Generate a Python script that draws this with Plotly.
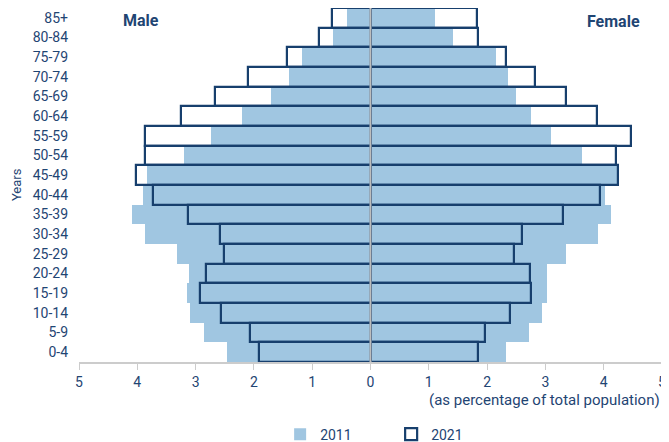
import plotly.graph_objects as go

ages = ["0-4", "5-9", "10-14", "15-19", "20-24", "25-29", "30-34", "35-39", "40-44",
        "45-49", "50-54", "55-59", "60-64", "65-69", "70-74", "75-79", "80-84", "85+"]

male_2011 = [2.47, 2.86, 3.09, 3.14, 3.12, 3.32, 3.86, 4.09, 3.91,
             3.83, 3.20, 2.73, 2.21, 1.70, 1.39, 1.17, 0.645, 0.405]
male_2021 = [1.91, 2.06, 2.56, 2.92, 2.83, 2.51, 2.59, 3.13, 3.73,
             4.03, 3.86, 3.87, 3.25, 2.67, 2.10, 1.43, 0.89, 0.66]
female_2011 = [2.33, 2.72, 2.94, 3.03, 3.03, 3.35, 3.91, 4.13, 4.02,
               4.22, 3.62, 3.10, 2.76, 2.50, 2.36, 2.16, 1.42, 1.11]
female_2021 = [1.84, 1.97, 2.39, 2.76, 2.73, 2.46, 2.59, 3.30, 3.93,
               4.24, 4.21, 4.47, 3.89, 3.35, 2.83, 2.33, 1.84, 1.83]

tick_vals = [-5, -4, -3, -2, -1, 0, 1, 2, 3, 4, 5]
tick_text = ["5", "4", "3", "2", "1", "0", "1", "2", "3", "4", "5"]

LIGHT = "#a0c6e1"
DARK = "#173f6d"
TEXT = "#1f4573"
FONT = "Roboto"

fig = go.Figure()
fig.add_trace(go.Bar(y=ages, x=[-v for v in male_2011], orientation="h", name="2011",
                     marker=dict(color=LIGHT, line=dict(width=0)), legendgroup="2011"))
fig.add_trace(go.Bar(y=ages, x=female_2011, orientation="h", name="2011",
                     marker=dict(color=LIGHT, line=dict(width=0)), legendgroup="2011",
                     showlegend=False))
fig.add_trace(go.Bar(y=ages, x=[-v for v in male_2021], orientation="h", name="2021",
                     marker=dict(color="rgba(0,0,0,0)", line=dict(width=2.2, color=DARK)),
                     legendgroup="2021"))
fig.add_trace(go.Bar(y=ages, x=female_2021, orientation="h", name="2021",
                     marker=dict(color="rgba(0,0,0,0)", line=dict(width=2.2, color=DARK)),
                     legendgroup="2021", showlegend=False))

fig.add_shape(type="line", xref="x", yref="paper", x0=0, x1=0, y0=0, y1=1,
              line=dict(color="#bdbdbd", width=2), layer="above")

fig.update_layout(
    width=661, height=434,
    margin=dict(l=71, r=7, t=0, b=80, autoexpand=False),
    barmode="overlay", bargap=0,
    plot_bgcolor="white", paper_bgcolor="white",
    font=dict(family=FONT, size=14, color=TEXT),
    xaxis=dict(range=[-5, 5], tickvals=tick_vals, ticktext=tick_text,
               showgrid=False, zeroline=False, showline=True, linecolor="#cccccc",
               linewidth=1.5, ticks="outside", ticklen=6, tickcolor="#cccccc",
               tickfont=dict(size=14, color=TEXT), automargin=False,
               ticklabeloverflow="allow"),
    yaxis=dict(showgrid=False, zeroline=False, showline=False, ticks="",
               tickfont=dict(size=14, color=TEXT), ticklabelstandoff=10,
               range=[-0.5, 17.5], automargin=False),
    legend=dict(orientation="h", x=0.345, xanchor="left", y=-0.205, yanchor="middle",
                font=dict(size=14, color=TEXT), entrywidth=66, itemwidth=30,
                traceorder="normal"),
    showlegend=True,
)

fig.add_annotation(text="Male", x=0.106, y=0.966, xref="paper", yref="paper",
                   xanchor="center", yanchor="middle",
                   showarrow=False, font=dict(size=16, color=TEXT, family=FONT, weight="bold"))
fig.add_annotation(text="Female", x=0.916, y=0.963, xref="paper", yref="paper",
                   xanchor="center", yanchor="middle",
                   showarrow=False, font=dict(size=16, color=TEXT, family=FONT, weight="bold"))
fig.add_annotation(text="(as percentage of total population)", x=1.0, y=-0.107,
                   xref="paper", yref="paper", xanchor="right", yanchor="middle",
                   showarrow=False, font=dict(size=15, color=TEXT))
fig.add_annotation(text="Years", x=-0.108, y=0.5, xref="paper", yref="paper",
                   xanchor="center", yanchor="middle",
                   textangle=-90, showarrow=False, font=dict(size=13, color=TEXT))

fig.write_html("out.html")
